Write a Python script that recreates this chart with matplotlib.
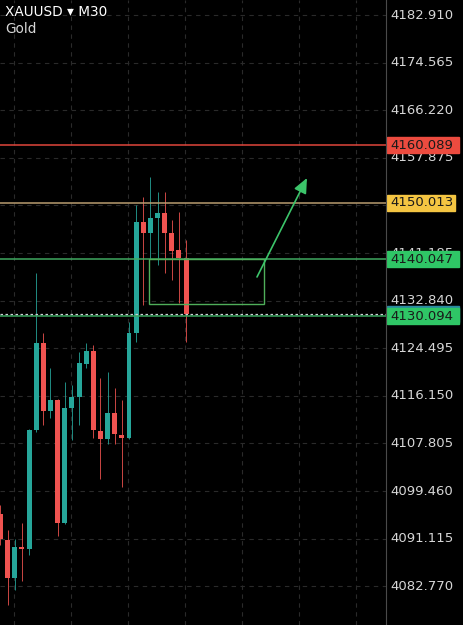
import matplotlib
matplotlib.use("Agg")
import matplotlib.pyplot as plt
from matplotlib.patches import Rectangle
from matplotlib.transforms import blended_transform_factory

# XAUUSD M30 candles
opens = [4095.43, 4090.87, 4084.20, 4089.64, 4089.29, 4110.15, 4125.41, 4113.48, 4115.41,
         4093.85, 4114.01, 4115.94, 4121.72, 4124.00, 4109.98, 4108.57, 4113.13, 4109.28,
         4108.75, 4127.16, 4146.62, 4144.69, 4147.32, 4148.20, 4144.69, 4141.71, 4140.31]
closes = [4091.04, 4084.20, 4089.64, 4089.29, 4110.15, 4125.41, 4113.48, 4115.41, 4093.85,
          4114.01, 4115.94, 4121.90, 4124.00, 4110.15, 4108.57, 4113.13, 4109.45, 4108.75,
          4127.16, 4146.62, 4144.69, 4147.32, 4148.20, 4144.69, 4141.53, 4140.31, 4130.49]
highs = [4097.00, 4092.62, 4091.04, 4093.85, 4110.30, 4137.68, 4127.16, 4121.02, 4115.60,
         4118.57, 4118.04, 4123.83, 4125.41, 4125.05, 4119.27, 4120.32, 4117.52, 4115.41,
         4129.09, 4149.60, 4151.00, 4154.51, 4151.88, 4151.88, 4146.97, 4148.37, 4143.46]
lows = [4089.99, 4079.47, 4082.10, 4083.68, 4088.24, 4109.80, 4111.03, 4112.26, 4091.57,
        4093.70, 4108.40, 4111.03, 4121.02, 4108.75, 4101.56, 4107.70, 4107.70, 4100.16,
        4108.60, 4125.58, 4132.07, 4140.13, 4139.08, 4137.68, 4136.45, 4132.42, 4125.58]

tick_prices = [4182.910, 4174.565, 4166.220, 4157.875, 4149.530, 4141.185, 4132.840,
               4124.495, 4116.150, 4107.805, 4099.460, 4091.115, 4082.770]

levels = [4160.089, 4150.013, 4140.047, 4130.094]
level_line_colors = ["#e0463c", "#b89c70", "#3fa860", "#3aa860"]
level_box_colors = ["#ec4b3f", "#f4c542", "#2fc666", "#2fc666"]

bid = closes[-1]
zone = (20.8, 36.9, 4132.24, 4140.047)      # x0, x1, low, high
arrow_from = (35.93, 4136.98)
arrow_to = (42.93, 4154.33)

up_col = "#26a69a"
down_col = "#ef5350"

fig = plt.figure(figsize=(4.64, 6.25), dpi=100, facecolor="black")
ax = fig.add_axes([0, 0, 386 / 464, 1])
ax.set_facecolor("black")
ax.set_xlim(-0.07, 54.0)
ax.set_ylim(4075.97, 4185.54)
for s in ax.spines.values():
    s.set_visible(False)
ax.set_xticks([])
ax.set_yticks([])

# grid
for p in tick_prices:
    ax.axhline(p, color="#2a2a2a", lw=0.8, ls=(0, (4, 4)), zorder=0)
for gx in [1.89 + 7.98 * k for k in range(7)]:
    ax.axvline(gx, color="#2a2a2a", lw=0.8, ls=(0, (4, 4)), zorder=0)

# candles
for i, (o, h, l, c) in enumerate(zip(opens, highs, lows, closes)):
    col = up_col if c >= o else down_col
    ax.vlines(i, l, h, color=col, lw=0.7, alpha=0.85, zorder=2)
    ax.bar(i, max(abs(c - o), 0.35), bottom=min(o, c), width=0.7, color=col,
           linewidth=0, zorder=3)

# levels
for p, col in zip(levels, level_line_colors):
    ax.axhline(p, color=col, lw=1.1, zorder=4)
ax.axhline(bid, color="#c8d0d4", lw=0.9, ls=(0, (2, 2)), zorder=4)

# zone and arrow
ax.add_patch(Rectangle((zone[0], zone[2]), zone[1] - zone[0], zone[3] - zone[2],
                       fill=False, ec="#4fae5a", lw=1.0, zorder=5))
ax.annotate("", xy=arrow_to, xytext=arrow_from,
            arrowprops=dict(arrowstyle="-|>,head_length=0.9,head_width=0.4",
                            color="#3cc46a", lw=1.2, shrinkA=0, shrinkB=0), zorder=6)

# price axis
fig.add_artist(plt.Line2D([386 / 464, 386 / 464], [0, 1], color="#4a4a4a", lw=0.8))
tr = blended_transform_factory(fig.transFigure, ax.transData)
for p in tick_prices:
    # labels fully hidden behind a level box are not drawn
    if min(abs(p - q) for q in levels) < 0.8:
        continue
    ax.text(390 / 464, p, f"{p:.3f}", transform=tr, color="#d6d6d6", fontsize=9.5,
            va="center", ha="left", clip_on=False, zorder=7)

box_h = 16 / 5.704
ax.add_patch(Rectangle((387 / 464, bid - box_h / 2), 72 / 464, box_h, transform=tr,
                       color="#2a8aa0", clip_on=False, zorder=8))
for p, col in zip(levels, level_box_colors):
    w = 68 if col == "#f4c542" else 72
    ax.add_patch(Rectangle((387 / 464, p - box_h / 2), w / 464, box_h, transform=tr,
                           color=col, clip_on=False, zorder=9))
    ax.text(390 / 464, p, f"{p:.3f}", transform=tr, color="#1a1a1a", fontsize=9.5,
            va="center", ha="left", clip_on=False, zorder=10)

# title
fig.text(5 / 464, 1 - 5 / 625, "XAUUSD \u25be M30", color="white", fontsize=9.8,
         va="top", ha="left")
fig.text(5 / 464, 1 - 22 / 625, "Gold", color="#d6d6d6", fontsize=9.8,
         va="top", ha="left")

fig.savefig("out.png", dpi=100, facecolor="black")
